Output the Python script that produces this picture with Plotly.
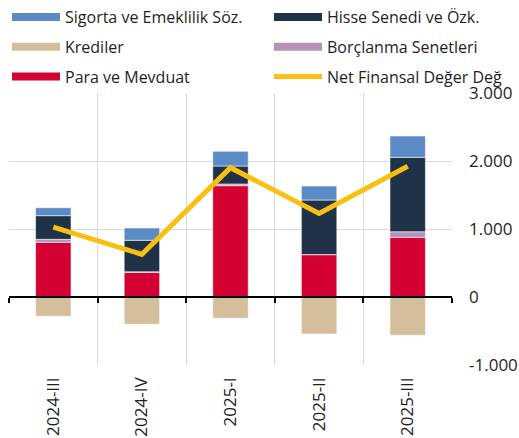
import plotly.graph_objects as go

categories = ["2024-III", "2024-IV", "2025-I", "2025-II", "2025-III"]
para = [804, 363, 1637, 622, 878]
borclanma = [44, 8, 25, 3, 82]
hisse = [348, 463, 264, 801, 1094]
sigorta = [117, 181, 216, 206, 314]
krediler = [-284, -401, -313, -544, -563]
net = [1029, 628, 1902, 1230, 1922]

y_tickvals = [-1000, 0, 1000, 2000, 3000]
y_ticktext = ["-1.000", "0", "1.000", "2.000", "3.000"]

C_SIG = "#5B8BC6"
C_HIS = "#1F3247"
C_KRE = "#D4BE9B"
C_BOR = "#B592B6"
C_PARA = "#D50032"
C_NET = "#F9C012"

FONT = "Open Sans"
TXT = "#1E1E1E"
edge = dict(color="rgba(255,255,255,0.55)", width=1)

fig = go.Figure()
for name, vals, col in [
    ("Para ve Mevduat", para, C_PARA),
    ("Borçlanma Senetleri", borclanma, C_BOR),
    ("Hisse Senedi ve Özk.", hisse, C_HIS),
    ("Sigorta ve Emeklilik Söz.", sigorta, C_SIG),
    ("Krediler", krediler, C_KRE),
]:
    fig.add_trace(go.Bar(x=categories, y=vals, name=name, marker=dict(color=col, line=edge),
                         showlegend=False))

fig.add_trace(go.Scatter(x=categories, y=net, mode="lines", name="Net Finansal Değer Değ",
                         line=dict(color=C_NET, width=5), showlegend=False, xaxis="x2"))

# legend entries: two columns -> two legends
legend_items = [
    ("Sigorta ve Emeklilik Söz.", C_SIG, 8, "legend"),
    ("Krediler", C_KRE, 8, "legend"),
    ("Para ve Mevduat", C_PARA, 8, "legend"),
    ("Hisse Senedi ve Özk.", C_HIS, 8, "legend2"),
    ("Borçlanma Senetleri", C_BOR, 8, "legend2"),
    ("Net Finansal Değer Değ", C_NET, 5, "legend2"),
]
for i, (name, col, w, lg) in enumerate(legend_items):
    fig.add_trace(go.Scatter(x=[None], y=[None], mode="lines", name=name, legend=lg,
                             legendgroup="g%d" % i, line=dict(color=col, width=w)))

leg_common = dict(orientation="v", xref="container", yref="container", y=1.0,
                  xanchor="left", yanchor="top", itemwidth=48,
                  font=dict(family=FONT, size=16, color=TXT),
                  traceorder="grouped", tracegroupgap=6, bgcolor="rgba(0,0,0,0)")

fig.update_layout(
    width=519, height=438,
    margin=dict(l=9, r=67, t=93, b=73, autoexpand=False),
    paper_bgcolor="white", plot_bgcolor="white",
    barmode="relative", bargap=0.6,
    font=dict(family=FONT, size=16, color=TXT),
    showlegend=True,
    legend=dict(x=7 / 519, **leg_common),
    legend2=dict(x=269 / 519, **leg_common),
    xaxis=dict(type="category", categoryorder="array", categoryarray=categories,
               tickson="boundaries", showgrid=True, gridcolor="#D9D9D9", gridwidth=1,
               ticks="", tickangle=-90, showline=False, zeroline=False,
               ticklabelstandoff=8,
               tickfont=dict(family=FONT, size=17, color=TXT)),
    xaxis2=dict(type="category", categoryorder="array", categoryarray=categories,
                overlaying="x", matches="x", anchor="free", position=0.25,
                tickson="boundaries", showgrid=False, showticklabels=False,
                ticks="outside", ticklen=5, tickcolor="black", tickwidth=1.5,
                showline=True, linecolor="black", linewidth=2),
    yaxis=dict(side="right", range=[-1000, 3000], tickvals=y_tickvals, ticktext=y_ticktext,
               showgrid=True, gridcolor="#D9D9D9", gridwidth=1, zeroline=False,
               showline=False, ticks="", ticklabelstandoff=16,
               tickfont=dict(family=FONT, size=17, color=TXT)),
)

fig.write_html("out.html")
